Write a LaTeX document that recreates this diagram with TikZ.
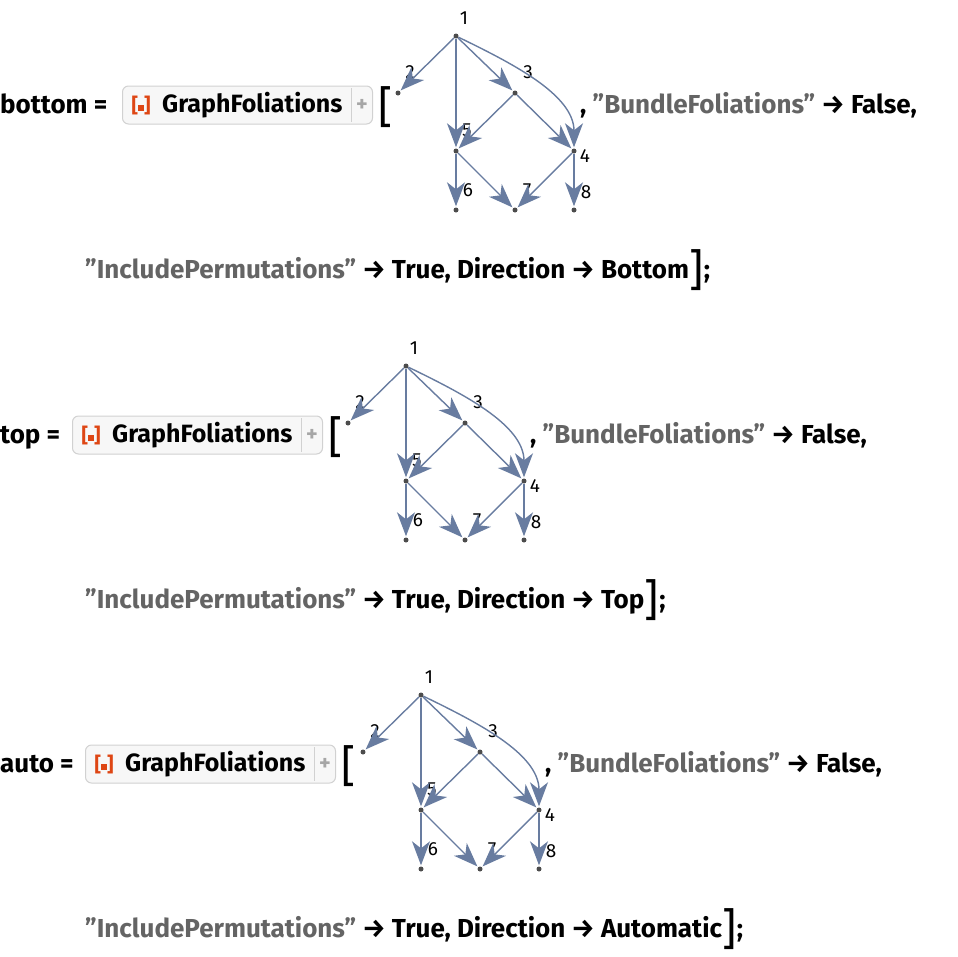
\documentclass[tikz,border=0pt]{standalone}
\usepackage{fontspec}
\setmainfont{Fira Sans}
\usetikzlibrary{arrows.meta,positioning}
\definecolor{edgeblue}{RGB}{104,124,160}
\definecolor{strgray}{RGB}{100,100,100}
\definecolor{iconred}{RGB}{222,70,20}

\tikzset{
  vtx/.style={circle,fill=black!70,inner sep=0pt,minimum size=5pt},
  lbl/.style={font=\fontsize{19}{19}\selectfont,inner sep=1pt},
  fe/.style={draw=edgeblue,line width=1.4pt,-{Stealth[length=24pt,width=18pt,inset=7pt]},shorten >=1pt},
  txt/.style={font=\fontsize{26}{26}\selectfont\bfseries,inner sep=0pt,anchor=base west},
  fbox/.style={draw=black!18,fill=black!3,rounded corners=6pt,line width=1pt,minimum height=38pt,inner sep=0pt},
  pics/fgraph/.style={code={
    \node[vtx] (1) at (0,0) {};
    \node[vtx] (2) at (-58,57) {};
    \node[vtx] (3) at (59,57) {};
    \node[vtx] (5) at (0,115) {};
    \node[vtx] (4) at (118,115) {};
    \node[vtx] (6) at (0,174) {};
    \node[vtx] (7) at (59,174) {};
    \node[vtx] (8) at (118,174) {};
    \node[lbl] at (8,-18) {1};
    \node[lbl] at (-46,36) {2};
    \node[lbl] at (72,36) {3};
    \node[lbl] at (11,94) {5};
    \node[lbl] at (129,120) {4};
    \node[lbl] at (12,154) {6};
    \node[lbl] at (71,154) {7};
    \node[lbl] at (130,156) {8};
    \draw[fe] (1) -- (2);
    \draw[fe] (1) -- (3);
    \draw[fe] (1) -- (5);
    \draw[fe] (1) to[out=-26,in=90,looseness=0.9] (4);
    \draw[fe] (3) -- (5);
    \draw[fe] (3) -- (4);
    \draw[fe] (5) -- (6);
    \draw[fe] (5) -- (7);
    \draw[fe] (4) -- (7);
    \draw[fe] (4) -- (8);
  }}
}

% one row: name, y of text, x of box, x of graph root, direction
\newcommand{\foliationrow}[5]{%
  \node[txt] (#1name) at (0,#2) {#1 =};
  \node[fbox,minimum width=250pt,anchor=west] (#1box) at (#3,#2-8) {};
  \node[font=\fontsize{20}{20}\selectfont\bfseries,text=iconred,anchor=west] (#1icon) at (#3+6,#2-8) {[\raisebox{1pt}{\rule{6pt}{6pt}}]};
  \node[txt,font=\fontsize{25}{25}\selectfont\bfseries,anchor=west] (#1fn) at (#3+40,#2-8) {GraphFoliations};
  \draw[black!18,line width=1pt] (#3+229,#2-25) -- (#3+229,#2+9);
  \node[font=\fontsize{22}{22}\selectfont\bfseries,text=black!35] (#1plus) at (#3+240,#2-8) {+};
  \node[font=\fontsize{44}{44}\selectfont,anchor=west,inner sep=0pt] (#1brk) at (#3+256,#2-6) {[};
  \pic (#1g) at (#4,#2-77) {fgraph};
  \node[txt] (#1opt) at (#4+124,#2) {, \textcolor{strgray}{\char34 BundleFoliations\char34} → False,};
  \node[txt] (#1opt2) at (85,#2+165) {\textcolor{strgray}{\char34 IncludePermutations\char34} → True, Direction → #5};
  \node[font=\fontsize{44}{44}\selectfont,anchor=west,inner sep=0pt] (#1end) at ([xshift=0pt,yshift=8pt]#1opt2.base east) {]};
  \node[txt] (#1semi) at (#1end.east |- #1opt2.base) {;};
}

\begin{document}
\begin{tikzpicture}[x=1pt,y=-1pt]
  \useasboundingbox (0,0) rectangle (958,956);
  \foliationrow{bottom}{113}{122}{456}{Bottom}
  \foliationrow{top}{443}{72}{406}{Top}
  \foliationrow{auto}{772}{85}{421}{Automatic}
\end{tikzpicture}
\end{document}
